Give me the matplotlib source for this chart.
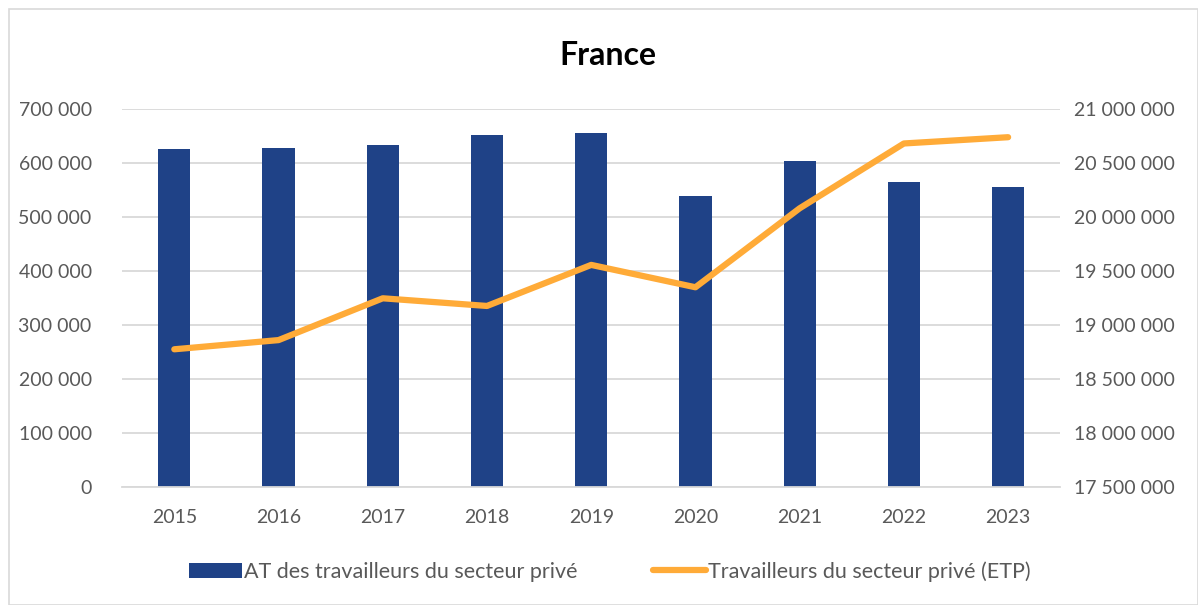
import numpy as np
import matplotlib.pyplot as plt
from matplotlib.ticker import FuncFormatter
from matplotlib.patches import Rectangle

plt.rcParams['font.family'] = ['Lato', 'DejaVu Sans']

years = ['2015', '2016', '2017', '2018', '2019', '2020', '2021', '2022', '2023']
at_prive = [625000, 627000, 633000, 652000, 656000, 539000, 604000, 564000, 556000]
travailleurs_etp = [18775000, 18860000, 19247000, 19176000, 19556000, 19349000, 20080000, 20680000, 20738000]

bar_color = '#1f4287'
line_color = '#ffab38'
txt_color = '#595959'
grid_color = '#d9d9d9'

def fmt(v, pos):
    return '{:,.0f}'.format(v).replace(',', ' ')

fig = plt.figure(figsize=(11.98, 6.05), dpi=100)
fig.patches.append(Rectangle((9 / 1198, 0), 1 - 9 / 1198, 1 - 9 / 605, transform=fig.transFigure,
                             fill=False, edgecolor=grid_color, linewidth=1.2))

ax = fig.add_axes([0.102, 0.195, 0.783, 0.625])
x = np.arange(len(years))
bars = ax.bar(x, at_prive, width=0.31, color=bar_color, zorder=2,
              label='AT des travailleurs du secteur privé')
ax.set_ylim(0, 700000)
ax.set_yticks(np.arange(0, 700001, 100000))
ax.yaxis.set_major_formatter(FuncFormatter(fmt))
ax.set_xlim(-0.5, len(years) - 0.5)
ax.set_xticks(x)
ax.set_xticklabels(years)
ax.grid(axis='y', color=grid_color, linewidth=1.3, zorder=0)
ax.set_axisbelow(True)
for s in ['top', 'right', 'left']:
    ax.spines[s].set_visible(False)
ax.spines['bottom'].set_color(grid_color)
ax.spines['bottom'].set_linewidth(1.3)
ax.tick_params(axis='both', length=0, labelsize=14, colors=txt_color)
ax.tick_params(axis='y', pad=22)
ax.tick_params(axis='x', pad=16)

ax2 = ax.twinx()
line, = ax2.plot(x, travailleurs_etp, color=line_color, linewidth=4.5,
                 solid_capstyle='round', solid_joinstyle='round', zorder=3,
                 label='Travailleurs du secteur privé (ETP)')
ax2.set_ylim(17500000, 21000000)
ax2.set_yticks(np.arange(17500000, 21000001, 500000))
ax2.yaxis.set_major_formatter(FuncFormatter(fmt))
for s in ['top', 'right', 'left', 'bottom']:
    ax2.spines[s].set_visible(False)
ax2.tick_params(axis='y', length=0, labelsize=14, colors=txt_color, pad=10)

fig.text(0.507, 0.908, 'France', ha='center', va='center', fontsize=23,
         fontweight='bold', color='black')

leg = fig.legend([bars, line], [bars.get_label(), line.get_label()],
                 loc='center', bbox_to_anchor=(0.509, 0.055), ncol=2, frameon=False,
                 fontsize=15.5, handlelength=2.45, handletextpad=0.1, columnspacing=3.5)
for t in leg.get_texts():
    t.set_color(txt_color)

fig.savefig('out.png', dpi=100)
